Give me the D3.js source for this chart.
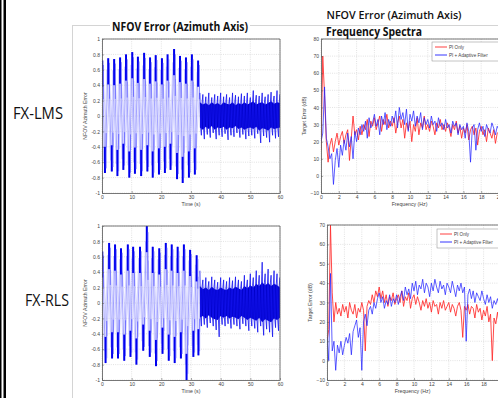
<!DOCTYPE html>
<html>
<head>
<meta charset="utf-8">
<script src="https://cdn.jsdelivr.net/npm/d3@7"></script>
<style>
  html, body { margin: 0; padding: 0; background: #fff; }
  svg { display: block; font-family: "Open Sans", sans-serif; }
</style>
</head>
<body>
<svg id="chart" width="498" height="398"></svg>
<script>
// ---- data ----
const rowLabels = ['FX-LMS', 'FX-RLS'];
const timeTicks = [0, 10, 20, 30, 40, 50, 60];
const errTicks = [-1, -0.8, -0.6, -0.4, -0.2, 0, 0.2, 0.4, 0.6, 0.8, 1];
const freqTicks = [0, 2, 4, 6, 8, 10, 12, 14, 16, 18, 20];
const dbTicksTop = [-10, 0, 10, 20, 30, 40, 50, 60, 70, 80];
const dbTicksBottom = [-10, 0, 10, 20, 30, 40, 50, 60, 70];
const legendNames = ['PI Only', 'PI + Adaptive Filter'];

// time domain: large oscillation before the filter converges (peak / trough of each cycle)
const lmsPeakT = [0.1, 2.1, 4.1, 6.1, 8.1, 10.2, 12.1, 14.2, 16.2, 18.1, 20.2, 22.1, 24.3, 26.3, 28.3, 30.3, 32.4];
const lmsPeak = [0.72, 0.75, 0.74, 0.76, 0.80, 0.83, 0.77, 0.82, 0.76, 0.79, 0.75, 0.80, 0.87, 0.78, 0.76, 0.80, 0.72];
const lmsTroughT = [1.0, 3.3, 5.2, 7.2, 9.2, 11.1, 13.2, 15.3, 17.1, 19.2, 21.2, 23.1, 25.3, 27.2, 29.3, 31.3];
const lmsTrough = [-0.74, -0.72, -0.78, -0.70, -0.80, -0.75, -0.78, -0.72, -0.80, -0.76, -0.74, -0.70, -0.82, -0.87, -0.80, -0.76];
// after convergence: envelope per second, 33..60 s
const tailT = d3.range(33, 61, 1);
const lmsTailHi = [0.30, 0.28, 0.25, 0.30, 0.24, 0.28, 0.26, 0.30, 0.25, 0.28, 0.24, 0.30, 0.27, 0.25, 0.29, 0.26, 0.30, 0.24, 0.33, 0.27, 0.26, 0.30, 0.25, 0.28, 0.31, 0.26, 0.33, 0.28];
const lmsTailLo = [-0.25, -0.30, -0.24, -0.28, -0.22, -0.30, -0.25, -0.27, -0.23, -0.31, -0.25, -0.27, -0.22, -0.28, -0.24, -0.30, -0.26, -0.25, -0.29, -0.23, -0.35, -0.26, -0.28, -0.34, -0.25, -0.29, -0.27, -0.24];
const lmsCoreHi = [0.18, 0.15, 0.17, 0.14, 0.18, 0.15, 0.17, 0.14, 0.18, 0.16, 0.15, 0.18, 0.14, 0.17, 0.15, 0.18, 0.15, 0.17, 0.19, 0.15, 0.17, 0.18, 0.15, 0.17, 0.19, 0.16, 0.18, 0.17];
const lmsCoreLo = [-0.15, -0.18, -0.14, -0.17, -0.13, -0.18, -0.15, -0.16, -0.14, -0.18, -0.15, -0.16, -0.13, -0.17, -0.15, -0.18, -0.16, -0.15, -0.17, -0.14, -0.19, -0.16, -0.17, -0.19, -0.15, -0.17, -0.16, -0.15];

const rlsPeakT = [0.1, 2.4, 4.4, 6.4, 8.7, 10.5, 12.8, 15.1, 17.1, 19.3, 21.5, 23.5, 25.5, 27.6, 29.7, 31.9];
const rlsPeak = [0.67, 0.78, 0.76, 0.71, 0.76, 0.73, 0.73, 1.0, 0.73, 0.71, 0.78, 0.76, 0.73, 0.76, 0.69, 0.62];
const rlsTroughT = [1.2, 3.4, 5.4, 7.5, 9.6, 11.6, 13.9, 16.1, 18.2, 20.4, 22.5, 24.5, 26.6, 28.5, 30.8, 32.5];
const rlsTrough = [-0.78, -0.72, -0.72, -0.75, -0.70, -0.80, -0.62, -0.70, -0.82, -0.66, -0.75, -0.78, -0.72, -1.0, -0.70, -0.68];
const rlsTailHi = [0.42, 0.30, 0.33, 0.28, 0.34, 0.30, 0.27, 0.33, 0.30, 0.28, 0.33, 0.29, 0.34, 0.30, 0.28, 0.36, 0.30, 0.38, 0.33, 0.42, 0.36, 0.53, 0.38, 0.44, 0.36, 0.42, 0.38, 0.33];
const rlsTailLo = [-0.30, -0.28, -0.32, -0.26, -0.30, -0.35, -0.44, -0.28, -0.30, -0.27, -0.33, -0.28, -0.30, -0.34, -0.27, -0.30, -0.36, -0.30, -0.33, -0.38, -0.30, -0.42, -0.34, -0.38, -0.44, -0.32, -0.36, -0.30];
const rlsCoreHi = [0.22, 0.18, 0.20, 0.17, 0.21, 0.18, 0.17, 0.20, 0.18, 0.17, 0.20, 0.18, 0.21, 0.19, 0.17, 0.22, 0.19, 0.23, 0.20, 0.25, 0.22, 0.27, 0.23, 0.26, 0.22, 0.25, 0.23, 0.20];
const rlsCoreLo = [-0.19, -0.17, -0.20, -0.16, -0.19, -0.21, -0.22, -0.17, -0.19, -0.17, -0.20, -0.18, -0.19, -0.21, -0.17, -0.19, -0.22, -0.19, -0.21, -0.23, -0.19, -0.25, -0.21, -0.23, -0.25, -0.20, -0.22, -0.19];

// frequency spectra (dB), 0..20 Hz every 0.2 Hz
const specFreq = d3.range(0, 20.001, 0.2);
const lmsPiOnly = [15, 70, 47, 20, 8, 18, 22, 14, 20, 25,
  18, 23, 26, 19, 24, 27, 9, 22, 35, 24,
  27, 21, 29, 24, 30, 27, 33, 23, 32, 29,
  34, 27, 31, 35, 26, 33, 30, 36, 28, 32,
  29, 34, 25, 31, 35, 28, 33, 22, 31, 27,
  32, 20, 30, 26, 34, 24, 31, 28, 35, 27,
  30, 26, 32, 29, 24, 31, 28, 33, 27, 30,
  26, 31, 28, 23, 30, 27, 32, 25, 29, 22,
  28, 25, 30, 21, 27, 29, 24, 28, 18, 26,
  29, 24, 27, 20, 28, 25, 22, 27, 19, 25, 26];
const lmsAdaptive = [20, 25, 52, 22, 17, 10, 13, -5, 9, 16,
  5, 18, 12, 21, 15, 25, 17, 23, 10, 26,
  20, 28, 24, 30, 26, 32, 22, 34, 28, 31,
  36, 29, 33, 24, 35, 30, 37, 27, 33, 29,
  35, 31, 38, 28, 40, 33, 37, 30, 39, 26,
  36, 32, 38, 29, 35, 31, 37, 27, 34, 30,
  33, 28, 35, 30, 32, 26, 34, 29, 31, 27,
  33, 28, 30, 25, 32, 29, 31, 24, 30, 27,
  29, 22, 31, 26, 8, 28, 30, 15, 27, 31,
  26, 29, 23, 30, 27, 25, 31, 28, 24, 29, 27];
const rlsPiOnly = [10, 16, 70, 35, 20, 30, 24, 27, 23, 29,
  25, 28, 22, 30, 26, 24, 29, 22, 27, 25,
  30, 26, 5, 28, 31, 29, 34, 30, 36, 33,
  38, 32, 36, 30, 34, 28, 33, 31, 35, 29,
  32, 34, 30, 36, 28, 33, 31, 35, 27, 32,
  34, 29, 33, 30, 26, 31, 28, 32, 27, 30,
  25, 31, 28, 29, 24, 30, 27, 31, 26, 28,
  30, 25, 29, 27, 23, 28, 30, 26, 12, 28,
  26, 29, 24, 28, 27, 22, 29, 25, 27, 21,
  26, 23, 28, 20, 24, 0, 22, 19, 25, 18, 21];
const rlsAdaptive = [12, 0, 45, 5, 10, -5, 8, 4, 10, 3,
  8, 12, 9, 14, 3, 15, 18, 21, 12, 17,
  -5, 20, 24, 18, 26, 28, 24, 30, 27, 32,
  35, 30, 33, 27, 31, 29, 34, 28, 32, 30,
  34, 29, 33, 36, 31, 38, 34, 37, 32, 40,
  36, 41, 34, 39, 37, 42, 35, 40, 38, 33,
  40, 36, 42, 38, 35, 41, 37, 39, 34, 40,
  38, 35, 41, 37, 33, 39, 36, 40, 35, 38,
  10, 34, 37, 32, 36, 30, 35, 33, 31, 36,
  32, 29, 34, 30, 33, 27, 31, 29, 32, 28, 30];

// ---- drawing ----
const W = 498, H = 398;
const svg = d3.select('#chart');
const BLUE = '#0000ee', LIGHT_BLUE = '#8c8cff', RED = '#ff2a2a', SPEC_BLUE = '#2020ff';
let clipId = 0;

// slide decorations
svg.append('rect').attr('x', 0).attr('y', 0).attr('width', 1.5).attr('height', H).attr('fill', '#000');
svg.append('rect').attr('x', 3.5).attr('y', 0).attr('width', 2.5).attr('height', H).attr('fill', '#000');
svg.append('line').attr('x1', 72.5).attr('x2', 72.5).attr('y1', 25).attr('y2', H)
  .attr('stroke', '#d4d4d4').attr('stroke-width', 1);
svg.append('line').attr('x1', 72).attr('x2', W).attr('y1', 25.5).attr('y2', 25.5)
  .attr('stroke', '#d4d4d4').attr('stroke-width', 1);

function makeAxes(box, xDom, yDom, xTicks, yTicks, fmt, xLabel, yLabel, yLabelX) {
  const x = d3.scaleLinear().domain(xDom).range([box.l, box.r]);
  const y = d3.scaleLinear().domain(yDom).range([box.b, box.t]);
  const g = svg.append('g');
  g.append('rect').attr('x', box.l).attr('y', box.t)
    .attr('width', box.r - box.l).attr('height', box.b - box.t).attr('fill', '#fff');
  const grid = g.append('g').attr('stroke', '#c4c4c4').attr('stroke-width', 0.5).attr('stroke-dasharray', '1,1.2');
  grid.selectAll('.gx').data(xTicks).join('line')
    .attr('x1', d => x(d)).attr('x2', d => x(d)).attr('y1', box.t).attr('y2', box.b);
  grid.selectAll('.gy').data(yTicks).join('line')
    .attr('x1', box.l).attr('x2', box.r).attr('y1', d => y(d)).attr('y2', d => y(d));

  const id = 'clip' + (clipId++);
  svg.append('clipPath').attr('id', id).append('rect')
    .attr('x', box.l).attr('y', box.t).attr('width', box.r - box.l).attr('height', box.b - box.t);
  const data = svg.append('g').attr('clip-path', `url(#${id})`);

  const over = svg.append('g');
  over.append('g').attr('transform', `translate(0,${box.b})`)
    .call(d3.axisBottom(x).tickValues(xTicks).tickSizeInner(-2).tickSizeOuter(0).tickPadding(2))
    .call(a => a.select('.domain').attr('stroke', '#555').attr('stroke-width', 0.8));
  over.append('g').attr('transform', `translate(${box.l},0)`)
    .call(d3.axisLeft(y).tickValues(yTicks).tickFormat(fmt).tickSizeInner(-2).tickSizeOuter(0).tickPadding(2))
    .call(a => a.select('.domain').attr('stroke', '#555').attr('stroke-width', 0.8));
  over.append('line').attr('x1', box.l).attr('x2', box.r).attr('y1', box.t).attr('y2', box.t)
    .attr('stroke', '#555').attr('stroke-width', 0.8);
  over.append('line').attr('x1', box.r).attr('x2', box.r).attr('y1', box.t).attr('y2', box.b)
    .attr('stroke', '#555').attr('stroke-width', 0.8);
  over.selectAll('.tick line').attr('stroke', '#555').attr('stroke-width', 0.5);
  over.selectAll('.tick text').attr('font-size', 5).attr('fill', '#444')
    .attr('font-family', '"Liberation Sans", sans-serif');

  over.append('text').attr('x', (box.l + Math.min(box.r, W)) / 2).attr('y', box.b + 13)
    .attr('text-anchor', 'middle').attr('font-size', 5.2).attr('fill', '#444')
    .attr('font-family', '"Liberation Sans", sans-serif').text(xLabel);
  over.append('text')
    .attr('transform', `translate(${yLabelX},${(box.t + box.b) / 2}) rotate(-90)`)
    .attr('text-anchor', 'middle').attr('font-size', 5.2).attr('fill', '#444')
    .attr('font-family', '"Liberation Sans", sans-serif').text(yLabel);
  return { x, y, data, over };
}

const errFmt = d => d === 0 ? '0' : String(+d.toFixed(1));
const DARK_REACH = 0.34; // how far the dense dark stroke runs in from each extreme

function timePlot(box, peakT, peak, troughT, trough, hi, lo, coreHi, coreLo) {
  const { x, y, data } = makeAxes(box, [0, 60], [-1, 1], timeTicks, errTicks, errFmt,
    'Time (s)', 'NFOV Azimuth Error', box.l - 15);
  const pts = peakT.map((t, i) => ({ t, v: peak[i] }))
    .concat(troughT.map((t, i) => ({ t, v: trough[i] })))
    .sort((a, b) => a.t - b.t);
  const line = d3.line().x(d => x(d.t)).y(d => y(d.v));
  // light crossing strokes between the extremes
  data.append('path').datum(pts).attr('d', line)
    .attr('fill', 'none').attr('stroke', LIGHT_BLUE).attr('stroke-width', 0.8);
  data.append('path').datum(pts.map(d => ({ t: d.t + 0.5, v: d.v * 0.55 })))
    .attr('d', line).attr('fill', 'none').attr('stroke', '#b4b4ff').attr('stroke-width', 0.6);
  data.append('path').datum(pts.map(d => ({ t: d.t - 0.4, v: d.v * 0.8 })))
    .attr('d', line).attr('fill', 'none').attr('stroke', '#a8a8ff').attr('stroke-width', 0.5);
  // dense dark strokes at each extreme
  data.selectAll('.pk').data(pts).join('line')
    .attr('x1', d => x(d.t)).attr('x2', d => x(d.t))
    .attr('y1', d => y(d.v)).attr('y2', d => y(d.v - Math.sign(d.v) * DARK_REACH))
    .attr('stroke', BLUE).attr('stroke-width', 2);
  data.selectAll('.pk2').data(pts).join('line')
    .attr('x1', d => x(d.t) + 1.2).attr('x2', d => x(d.t) + 1.2)
    .attr('y1', d => y(d.v * 0.92)).attr('y2', d => y(d.v * 0.3))
    .attr('stroke', '#5050ff').attr('stroke-width', 0.7);
  // converged part: jagged envelope around a dense core
  const tail = tailT.map((t, i) => ({ t, hi: hi[i], lo: lo[i], ch: coreHi[i], cl: coreLo[i] }));
  data.append('path').datum(tail)
    .attr('d', d3.area().x(d => x(d.t)).y0(d => y(d.cl)).y1(d => y(d.ch)))
    .attr('fill', '#0000c8');
  const zig = [];
  tail.forEach((d, i) => {
    zig.push({ t: d.t, v: d.hi }, { t: d.t + 0.25, v: d.cl });
    if (i < tail.length - 1) zig.push({ t: d.t + 0.5, v: d.lo }, { t: d.t + 0.75, v: d.ch });
  });
  data.append('path').datum(zig).attr('d', line)
    .attr('fill', 'none').attr('stroke', '#1414f0').attr('stroke-width', 0.8);
}

function specPlot(box, yDom, yTicks, red, blue, leg) {
  const { x, y, data, over } = makeAxes(box, [0, 20], yDom, freqTicks, yTicks, d3.format('d'),
    'Frequency (Hz)', 'Target Error (dB)', box.l - 15);
  const line = d3.line().x((d, i) => x(specFreq[i])).y(d => y(d));
  data.append('path').datum(red).attr('d', line)
    .attr('fill', 'none').attr('stroke', RED).attr('stroke-width', 1).attr('stroke-opacity', 0.85);
  data.append('path').datum(blue).attr('d', line)
    .attr('fill', 'none').attr('stroke', SPEC_BLUE).attr('stroke-width', 1).attr('stroke-opacity', 0.72);
  const lg = over.append('g');
  lg.append('rect').attr('x', leg.x).attr('y', leg.y).attr('width', 80).attr('height', 19)
    .attr('fill', '#fff').attr('stroke', '#888').attr('stroke-width', 0.5);
  [RED, SPEC_BLUE].forEach((c, i) => {
    const yy = leg.y + 5 + i * 8;
    lg.append('line').attr('x1', leg.x + 3).attr('x2', leg.x + 15).attr('y1', yy).attr('y2', yy)
      .attr('stroke', c).attr('stroke-width', 0.9);
    lg.append('text').attr('x', leg.x + 17).attr('y', yy + 1.6).attr('font-size', 4.6)
      .attr('fill', '#444').attr('font-family', '"Liberation Sans", sans-serif').text(legendNames[i]);
  });
}

timePlot({ l: 102, r: 280, t: 39, b: 193 }, lmsPeakT, lmsPeak, lmsTroughT, lmsTrough,
  lmsTailHi, lmsTailLo, lmsCoreHi, lmsCoreLo);
timePlot({ l: 102, r: 280, t: 226, b: 380 }, rlsPeakT, rlsPeak, rlsTroughT, rlsTrough,
  rlsTailHi, rlsTailLo, rlsCoreHi, rlsCoreLo);
specPlot({ l: 321, r: 499, t: 39, b: 193 }, [-10, 80], dbTicksTop, lmsPiOnly, lmsAdaptive, { x: 432, y: 42 });
specPlot({ l: 327, r: 501, t: 225, b: 380 }, [-10, 70], dbTicksBottom, rlsPiOnly, rlsAdaptive, { x: 437, y: 229 });

// titles and row labels
const title = svg.append('g').attr('font-family', '"Open Sans", sans-serif').attr('fill', '#111');
title.append('rect').attr('x', 110).attr('y', 21).attr('width', 140).attr('height', 11).attr('fill', '#fff');
title.append('text').attr('x', 180).attr('y', 31).attr('text-anchor', 'middle')
  .attr('font-size', 11.5).attr('font-weight', 700).attr('textLength', 136).attr('lengthAdjust', 'spacingAndGlyphs')
  .text('NFOV Error (Azimuth Axis)');
title.append('text').attr('x', 394).attr('y', 19).attr('text-anchor', 'middle')
  .attr('font-size', 11.5).attr('font-weight', 600).attr('textLength', 135).attr('lengthAdjust', 'spacingAndGlyphs')
  .text('NFOV Error (Azimuth Axis)');
title.append('text').attr('x', 326).attr('y', 36).attr('text-anchor', 'start')
  .attr('font-size', 11.5).attr('font-weight', 700).attr('textLength', 96).attr('lengthAdjust', 'spacingAndGlyphs')
  .text('Frequency Spectra');
svg.append('text').attr('x', 13).attr('y', 119).attr('font-size', 16).attr('fill', '#111')
  .attr('textLength', 50).attr('lengthAdjust', 'spacingAndGlyphs').text(rowLabels[0]);
svg.append('text').attr('x', 25).attr('y', 306).attr('font-size', 16).attr('fill', '#111')
  .attr('textLength', 44).attr('lengthAdjust', 'spacingAndGlyphs').text(rowLabels[1]);
</script>
</body>
</html>
